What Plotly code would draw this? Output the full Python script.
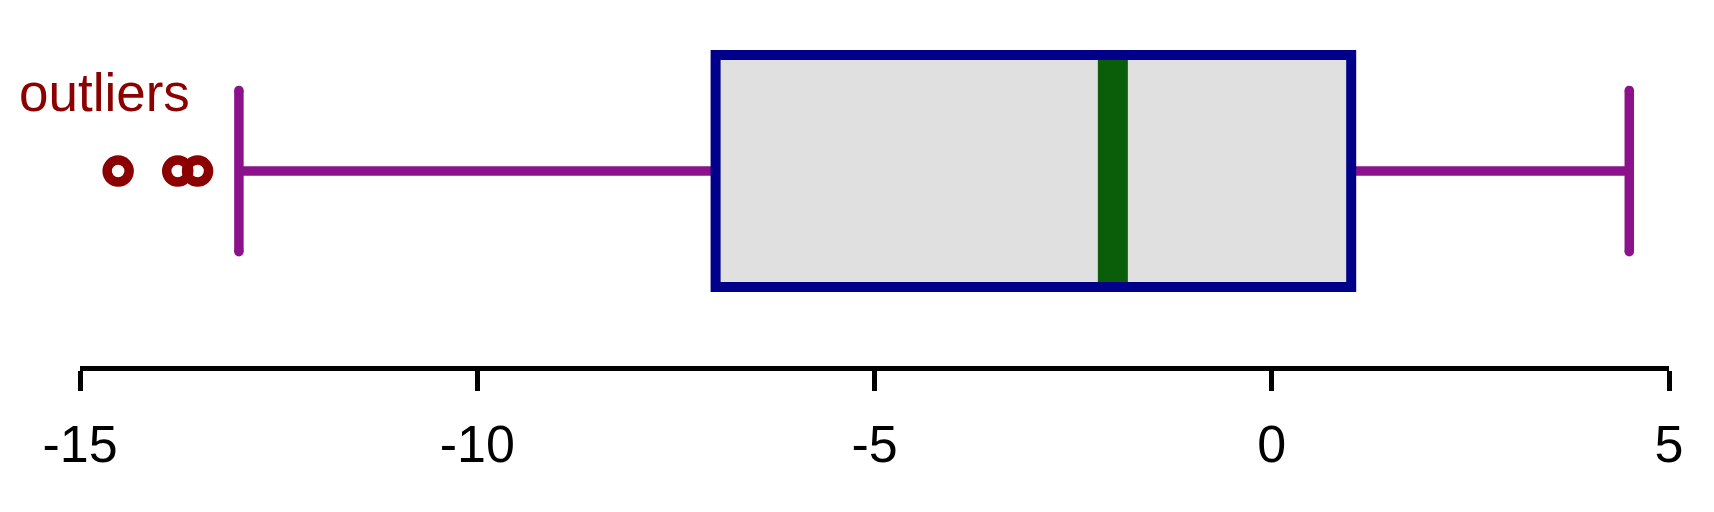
import plotly.graph_objects as go

# ---- data ----
q1 = -7.0
median = -2.0
q3 = 1.0
whisker_low = -13.0
whisker_high = 4.5
outliers = [-14.52, -13.77, -13.52]
tick_vals = [-15, -10, -5, 0, 5]
tick_text = ["-15", "-10", "-5", "0", "5"]

# ---- styling / geometry ----
BOX_HALF = 0.4
CAP_HALF = 0.278
FONT = "Liberation Sans, Arial, sans-serif"
NAVY = "#00008B"
GREEN = "#0A5E0A"
PURPLE = "#8B128B"
DARKRED = "#8B0000"
FILL = "#E0E0E0"
WLW = 9.5

fig = go.Figure()

# whiskers
fig.add_trace(go.Scatter(x=[whisker_low, q1], y=[0, 0], mode="lines",
                         line=dict(color=PURPLE, width=WLW), hoverinfo="skip"))
fig.add_trace(go.Scatter(x=[q3, whisker_high], y=[0, 0], mode="lines",
                         line=dict(color=PURPLE, width=WLW), hoverinfo="skip"))
# caps (markers at ends emulate round line caps)
for w in (whisker_low, whisker_high):
    fig.add_trace(go.Scatter(x=[w, w], y=[-CAP_HALF, CAP_HALF], mode="lines+markers",
                             line=dict(color=PURPLE, width=WLW),
                             marker=dict(size=WLW, color=PURPLE, line=dict(width=0)),
                             hoverinfo="skip"))

# box fill
fig.add_trace(go.Scatter(x=[q1, q3, q3, q1, q1],
                         y=[-BOX_HALF, -BOX_HALF, BOX_HALF, BOX_HALF, -BOX_HALF],
                         mode="lines", fill="toself", fillcolor=FILL,
                         line=dict(width=0, color=FILL), hoverinfo="skip"))
# median
fig.add_trace(go.Scatter(x=[median, median], y=[-BOX_HALF, BOX_HALF], mode="lines",
                         line=dict(color=GREEN, width=30), hoverinfo="skip"))
# box border (start mid-side so no corner seam)
fig.add_trace(go.Scatter(x=[q1, q1, q3, q3, q1, q1],
                         y=[0, BOX_HALF, BOX_HALF, -BOX_HALF, -BOX_HALF, 0],
                         mode="lines", line=dict(color=NAVY, width=10), hoverinfo="skip"))

# outliers
fig.add_trace(go.Scatter(x=outliers, y=[0] * len(outliers), mode="markers",
                         marker=dict(symbol="circle-open", size=22, color=DARKRED,
                                     line=dict(width=9.5, color=DARKRED)),
                         cliponaxis=False, hoverinfo="skip"))

fig.add_annotation(text="outliers", xref="paper", yref="y",
                   x=(17 - 80) / 1589, y=0.27, xanchor="left", yanchor="middle",
                   showarrow=False, font=dict(family=FONT, size=53, color=DARKRED))

# page body has an 8px margin: figure is 1698x496 placed at (8,8)
fig.update_layout(
    width=1698, height=496,
    margin=dict(l=72, r=37, t=0, b=138),
    plot_bgcolor="white", paper_bgcolor="white",
    showlegend=False,
    font=dict(family=FONT, color="black"),
    xaxis=dict(range=[-15, 5], tickvals=tick_vals, ticktext=tick_text,
               showgrid=False, zeroline=False, showline=True, linecolor="black",
               linewidth=4.5, ticks="outside", ticklen=20, tickwidth=4.5,
               ticklabelstandoff=9,
               tickcolor="black", tickfont=dict(family=FONT, size=52, color="black")),
    yaxis=dict(range=[-0.672, 0.562], visible=False, showgrid=False, zeroline=False),
)

fig.write_html("out.html")
